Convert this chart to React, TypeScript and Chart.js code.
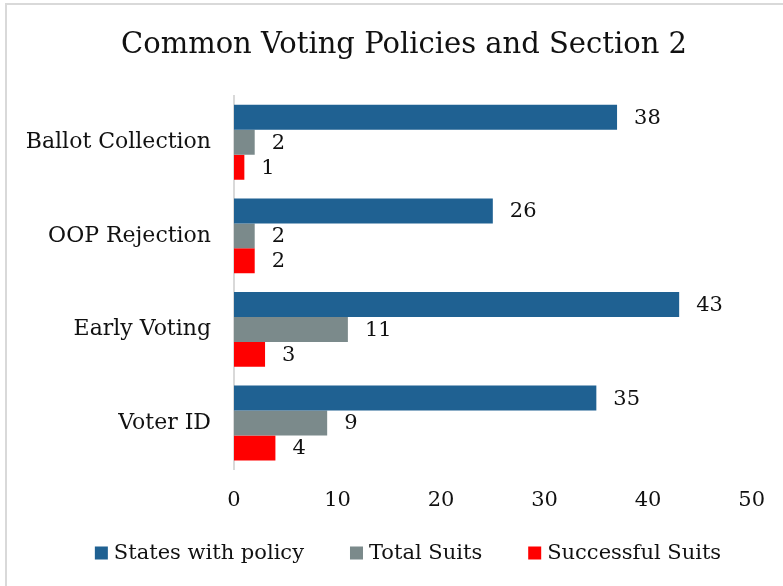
import React, { useEffect, useRef } from "react";
import { Chart, registerables } from "chart.js";

Chart.register(...registerables);

const title = "Common Voting Policies and Section 2";
const categories = ["Ballot Collection", "OOP Rejection", "Early Voting", "Voter ID"];
const statesWithPolicy = [37, 25, 43, 35];
const statesWithPolicyLabels = ["38", "26", "43", "35"];
const totalSuits = [2, 2, 11, 9];
const successfulSuits = [1, 2, 3, 4];
const xTicks = [0, 10, 20, 30, 40, 50];
const seriesNames = ["States with policy", "Total Suits", "Successful Suits"];
const seriesColors = ["#1F6192", "#7B8A8B", "#FF0000"];

const FONT = "'DejaVu Serif', serif";
const TEXT = "#111111";

const titlePlugin = {
  id: "customTitle",
  afterDraw(chart: any) {
    const ctx = chart.ctx;
    ctx.save();
    ctx.font = `29px ${FONT}`;
    ctx.fillStyle = TEXT;
    ctx.textAlign = "center";
    ctx.textBaseline = "middle";
    ctx.fillText(title, 404, 45);
    ctx.restore();
  },
};

const valueLabelPlugin = {
  id: "valueLabels",
  afterDatasetsDraw(chart: any) {
    const ctx = chart.ctx;
    ctx.save();
    ctx.font = `21px ${FONT}`;
    ctx.fillStyle = TEXT;
    ctx.textAlign = "left";
    ctx.textBaseline = "middle";
    chart.data.datasets.forEach((ds: any, di: number) => {
      const meta = chart.getDatasetMeta(di);
      meta.data.forEach((el: any, i: number) => {
        const txt = ds.labelsText ? ds.labelsText[i] : String(ds.data[i]);
        ctx.fillText(txt, el.x + 17, el.y + 1);
      });
    });
    ctx.restore();
  },
};

const customLegendPlugin = {
  id: "customLegend",
  afterDraw(chart: any) {
    const ctx = chart.ctx;
    ctx.save();
    ctx.font = `21px ${FONT}`;
    ctx.textBaseline = "middle";
    ctx.textAlign = "left";
    const box = 13;
    const gapBoxText = 6;
    const gapItems = 46;
    const widths = seriesNames.map((n) => box + gapBoxText + ctx.measureText(n).width);
    const total = widths.reduce((a, b) => a + b, 0) + gapItems * (seriesNames.length - 1);
    const centerX = 408;
    const y = 553;
    let x = centerX - total / 2;
    seriesNames.forEach((n, i) => {
      ctx.fillStyle = seriesColors[i];
      ctx.fillRect(x, y - box / 2, box, box);
      ctx.fillStyle = TEXT;
      ctx.fillText(n, x + box + gapBoxText, y + 1);
      x += widths[i] + gapItems;
    });
    ctx.restore();
  },
};

export default function App() {
  const canvasRef = useRef<HTMLCanvasElement>(null);

  useEffect(() => {
    if (!canvasRef.current) return;
    const chart = new Chart(canvasRef.current, {
      type: "bar",
      data: {
        labels: categories,
        datasets: [
          {
            label: seriesNames[0],
            data: statesWithPolicy,
            labelsText: statesWithPolicyLabels,
            backgroundColor: seriesColors[0],
          } as any,
          { label: seriesNames[1], data: totalSuits, backgroundColor: seriesColors[1] },
          { label: seriesNames[2], data: successfulSuits, backgroundColor: seriesColors[2] },
        ],
      },
      options: {
        indexAxis: "y",
        responsive: false,
        animation: false,
        maintainAspectRatio: false,
        layout: { padding: { top: 95.5, left: 0, right: 26, bottom: 55 } },
        datasets: {
          bar: { categoryPercentage: 0.8, barPercentage: 1.0 },
        },
        scales: {
          x: {
            min: 0,
            max: 50,
            afterBuildTicks: (scale: any) => {
              scale.ticks = xTicks.map((v) => ({ value: v }));
            },
            grid: { display: false, drawTicks: false },
            border: { display: false },
            ticks: { padding: 18, color: TEXT, font: { family: FONT, size: 21 } },
          },
          y: {
            afterFit: (scale: any) => {
              scale.width = 234;
            },
            grid: { display: false, drawTicks: false },
            border: { display: true, color: "#D9D9D9", width: 2 },
            ticks: { padding: 23, color: TEXT, font: { family: FONT, size: 22 } },
          },
        },
        plugins: {
          legend: { display: false },
          title: { display: false },
          tooltip: { enabled: false },
        },
      } as any,
      plugins: [titlePlugin, valueLabelPlugin, customLegendPlugin],
    });
    return () => chart.destroy();
  }, []);

  return (
    <div style={{ position: "fixed", left: 0, top: 0, width: 783, height: 586, background: "#fff" }}>
      <div
        style={{
          position: "absolute",
          left: 5,
          top: 3,
          width: 800,
          height: 600,
          border: "2px solid #D9D9D9",
          boxSizing: "border-box",
        }}
      />
      <canvas
        ref={canvasRef}
        width={783}
        height={586}
        style={{ position: "absolute", left: 0, top: 0, width: 783, height: 586 }}
      />
    </div>
  );
}
